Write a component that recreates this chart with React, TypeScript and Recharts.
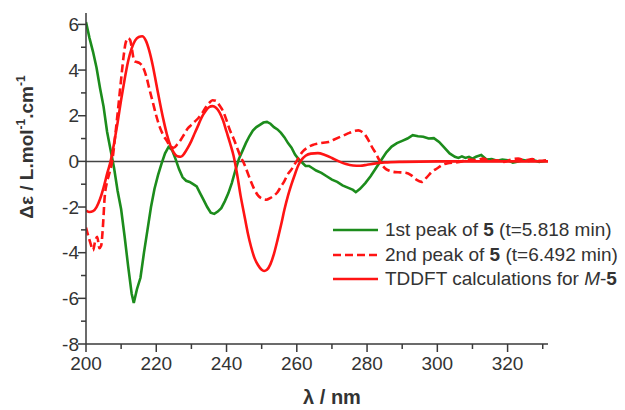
import React from "react";
import { LineChart, Line, XAxis, YAxis, ReferenceLine, Legend } from "recharts";

// ---- Data ----
const greenLambda = [200, 201, 202, 203, 204, 205, 206, 207, 208, 209, 210, 211, 212, 213, 213.6, 214.5, 215.5, 216.5, 217.5, 218.5, 219.5, 220.5, 221.5, 222.5, 223.5, 224.5, 225.5, 226.5, 227.5, 228.5, 229.5, 230.5, 231.5, 232.5, 233.5, 234.5, 235.5, 236.5, 237.5, 238.5, 239.5, 240.5, 241.5, 242.5, 243.5, 244.5, 245.5, 246.5, 247.5, 248.5, 249.5, 250.5, 251.5, 252.5, 253.5, 254.5, 255.5, 256.5, 257.5, 258.5, 259.5, 260.5, 261.5, 262.5, 263.5, 264.5, 265.5, 267, 268.5, 270, 271.5, 273, 274.5, 276, 276.8, 278, 279.5, 281, 282.5, 284, 285.5, 287, 288.5, 290, 291.5, 293, 294.5, 296, 297.5, 299, 300.5, 302, 303.5, 305, 306, 307, 308, 309, 310, 311, 312.5, 314, 315.5, 317, 318.5, 320, 321.5, 323, 324.5, 326, 327.5, 329, 331];
const greenDelta = [6.1, 5.4, 4.8, 4.1, 3.2, 2.4, 1.3, 0.5, -0.3, -1.3, -2.1, -3.3, -4.6, -5.8, -6.2, -5.6, -5.1, -4.0, -3.0, -2.0, -1.2, -0.6, -0.1, 0.35, 0.63, 0.5, 0.1, -0.35, -0.7, -0.85, -0.9, -1.0, -1.1, -1.4, -1.7, -2.0, -2.25, -2.3, -2.2, -2.05, -1.75, -1.4, -0.95, -0.4, 0.1, 0.45, 0.8, 1.1, 1.35, 1.5, 1.6, 1.7, 1.73, 1.65, 1.5, 1.4, 1.25, 1.05, 0.8, 0.6, 0.3, 0.1, -0.05, -0.2, -0.2, -0.3, -0.4, -0.5, -0.65, -0.8, -0.9, -1.05, -1.15, -1.25, -1.35, -1.2, -0.95, -0.65, -0.3, 0.05, 0.4, 0.65, 0.8, 0.9, 1.0, 1.15, 1.1, 1.08, 1.0, 1.02, 0.85, 0.6, 0.35, 0.2, 0.15, 0.22, 0.15, 0.2, 0.12, 0.2, 0.28, 0.08, 0.1, 0.03, 0.08, 0.05, -0.05, 0.0, 0.06, 0.02, 0.05, -0.02, 0.03];

const dashLambda = [200, 200.7, 201.3, 202, 202.6, 203.2, 203.8, 204.3, 204.8, 205.3, 206, 206.7, 207.5, 208.3, 209.2, 210, 210.7, 211.3, 212, 212.6, 213.2, 213.7, 214.5, 215.3, 216.3, 217.2, 218, 219, 220, 221, 222, 223, 224, 225, 226, 227, 228, 229, 230, 231, 232, 233, 234, 235, 236, 237, 238, 239, 240, 241, 242, 243, 244, 245, 246, 247, 248, 249, 250, 251.3, 252.5, 253.5, 254.5, 255.5, 256.5, 257.5, 258.5, 259.5, 260.5, 261.5, 263, 264.5, 266, 267.5, 269, 270.5, 272, 273.5, 275, 276.5, 277.5, 278.5, 279.5, 280.5, 281.5, 282.5, 283.5, 284.5, 285.5, 286.5, 288, 289.5, 291, 292.5, 294, 295.5, 297, 298.5, 300, 301.5, 303, 305, 307, 309, 311, 313, 315, 317, 319, 321, 323, 325, 327, 329, 331];
const dashDelta = [-2.9, -3.3, -3.6, -3.9, -3.5, -3.3, -3.8, -3.7, -2.9, -1.6, -0.9, -0.5, 0.05, 1.1, 2.4, 3.6, 4.6, 5.2, 5.4, 5.3, 4.8, 4.4, 4.35, 4.3, 4.1, 3.7, 3.2, 2.6, 2.0, 1.5, 1.15, 0.9, 0.65, 0.6, 0.75, 0.95, 1.2, 1.45, 1.6, 1.75, 1.9, 2.1, 2.35, 2.55, 2.68, 2.65, 2.45, 2.2, 1.8, 1.35, 1.0, 0.6, 0.2, -0.1, -0.5, -0.9, -1.25, -1.5, -1.62, -1.68, -1.6, -1.5, -1.35, -1.1, -0.85, -0.55, -0.35, -0.1, 0.15, 0.4, 0.6, 0.72, 0.78, 0.82, 0.85, 0.95, 1.05, 1.15, 1.25, 1.33, 1.36, 1.3, 1.15, 0.9, 0.6, 0.35, 0.05, -0.2, -0.35, -0.42, -0.47, -0.48, -0.5, -0.6, -0.8, -0.9, -0.7, -0.45, -0.3, -0.15, -0.08, -0.05, 0.0, 0.08, 0.05, 0.12, 0.03, 0.05, -0.02, 0.08, 0.12, 0.05, 0.1, 0.02, 0.05];

const calcLambda = [200, 201, 202, 203, 204, 205, 206, 207, 208, 209, 210, 211, 212, 213, 214, 215, 216, 217, 218, 219, 220, 221, 222, 223, 224, 225, 226, 227, 228, 229, 230, 231, 232, 233, 234, 235, 236, 237, 238, 239, 240, 241, 242, 243, 244, 245, 246, 247, 248, 249, 250, 250.7, 251.5, 252.5, 253.5, 254.5, 255.5, 256.5, 257.5, 258.5, 259.5, 260.5, 261.5, 262.5, 264, 266, 268, 270, 272, 274, 276, 278, 280, 282, 285, 290, 300, 310, 320, 331.5];
const calcDelta = [-2.15, -2.22, -2.18, -2.0, -1.65, -1.15, -0.55, 0.0, 0.8, 1.7, 2.7, 3.6, 4.4, 4.95, 5.3, 5.45, 5.48, 5.3, 4.85, 4.2, 3.4, 2.6, 1.85, 1.2, 0.7, 0.38, 0.22, 0.2, 0.35, 0.6, 0.9, 1.25, 1.6, 1.95, 2.2, 2.37, 2.42, 2.35, 2.15, 1.8, 1.3, 0.8, 0.25, -0.55, -1.5, -2.3, -3.1, -3.75, -4.25, -4.55, -4.75, -4.8, -4.75, -4.5, -4.05, -3.45, -2.8, -2.1, -1.5, -1.0, -0.55, -0.15, 0.1, 0.25, 0.34, 0.36, 0.28, 0.15, 0.0, -0.12, -0.18, -0.19, -0.15, -0.1, -0.05, -0.02, 0.0, 0.0, 0.0, 0.0];

const xMajorTicks = [200, 220, 240, 260, 280, 300, 320];
const xMinorTicks = [210, 230, 250, 270, 290, 310, 330];
const yMajorTicks = [-8, -6, -4, -2, 0, 2, 4, 6];
const yMinorTicks = [-7, -5, -3, -1, 1, 3, 5];

const zip = (xs: number[], ys: number[]) => xs.map((x, i) => ({ x, y: ys[i] }));
const greenData = zip(greenLambda, greenDelta);
const dashData = zip(dashLambda, dashDelta);
const calcData = zip(calcLambda, calcDelta);
const xAllTicks = [...xMajorTicks, ...xMinorTicks].sort((a, b) => a - b);
const yAllTicks = [...yMajorTicks, ...yMinorTicks].sort((a, b) => a - b);

const GREEN = "#1c8c1c";
const RED = "#ff1414";
const AXIS = "#3a3a3a";
const TEXT = "#333333";
const FONT = "'Liberation Sans', Arial, Helvetica, sans-serif";

const legendItems = [
  { color: GREEN, dash: undefined as string | undefined, label: <>1st peak of <b>5</b> (t=5.818 min)</> },
  { color: RED, dash: "8 4", label: <>2nd peak of <b>5</b> (t=6.492 min)</> },
  { color: RED, dash: undefined as string | undefined, label: <>TDDFT calculations for <i>M</i>-<b>5</b></> },
];

const renderLegend = () => (
  <div style={{ fontFamily: FONT, fontSize: 19, color: TEXT }}>
    {legendItems.map((it, i) => (
      <div key={i} style={{ display: "flex", alignItems: "center", height: 24.5, whiteSpace: "nowrap" }}>
        <svg width={45} height={10} style={{ marginRight: 7, flex: "none" }}>
          <line x1={0} y1={5} x2={45} y2={5} stroke={it.color} strokeWidth={2.6} strokeDasharray={it.dash} />
        </svg>
        <span>{it.label}</span>
      </div>
    ))}
  </div>
);

const XTick = (props: any) => {
  const { x, y, payload } = props;
  const major = xMajorTicks.includes(payload.value);
  return (
    <g>
      <line x1={x} x2={x} y1={y} y2={y + (major ? 8 : 5)} stroke={AXIS} strokeWidth={1.5} />
      {major && (
        <text x={x} y={y + 13} dy="0.71em" textAnchor="middle" fontFamily={FONT} fontSize={19} fill={TEXT}>
          {payload.value}
        </text>
      )}
    </g>
  );
};

const YTick = (props: any) => {
  const { x, y, payload } = props;
  const major = yMajorTicks.includes(payload.value);
  return (
    <g>
      <line x1={x - (major ? 8 : 5)} x2={x} y1={y} y2={y} stroke={AXIS} strokeWidth={1.5} />
      {major && (
        <text x={x - 7} y={y} dy="0.355em" textAnchor="end" fontFamily={FONT} fontSize={19} fill={TEXT}>
          {payload.value}
        </text>
      )}
    </g>
  );
};

const YLabel = () => (
  <text
    transform="translate(33,147) rotate(-90)"
    textAnchor="middle"
    fontFamily={FONT}
    fontSize={19}
    fontWeight="bold"
    fill={TEXT}
  >
    Δε / L.mol<tspan dy={-8} fontSize={12}>-1</tspan>
    <tspan dy={8}>.cm</tspan>
    <tspan dy={-8} fontSize={12}>-1</tspan>
  </text>
);

const XLabel = () => (
  <text x={332} y={404} textAnchor="middle" fontFamily={FONT} fontSize={20} fontWeight="bold" fill={TEXT}>
    λ / nm
  </text>
);

export default function App() {
  return (
    <div style={{ position: "absolute", left: 0, top: 0 }}>
      <LineChart width={625} height={410} margin={{ top: 13, right: 77, bottom: 0, left: 0 }}>
        <XAxis
          type="number"
          dataKey="x"
          domain={[200, 331.5]}
          allowDataOverflow
          ticks={xAllTicks}
          interval={0}
          tickSize={0}
          tickMargin={0}
          height={66}
          tick={<XTick />}
          tickLine={false}
          stroke={AXIS}
          strokeWidth={1.5}
          label={{ content: () => <XLabel /> }}
        />
        <YAxis
          type="number"
          domain={[-8, 6.5]}
          allowDataOverflow
          ticks={yAllTicks}
          interval={0}
          tickSize={0}
          tickMargin={0}
          width={86}
          tick={<YTick />}
          tickLine={false}
          stroke={AXIS}
          strokeWidth={1.5}
          label={{ content: () => <YLabel /> }}
        />
        <ReferenceLine y={0} stroke="#444" strokeWidth={1.5} />
        <Line
          data={greenData}
          dataKey="y"
          type="linear"
          stroke={GREEN}
          strokeWidth={2.6}
          dot={false}
          isAnimationActive={false}
        />
        <Line
          data={dashData}
          dataKey="y"
          type="monotone"
          stroke={RED}
          strokeWidth={2.6}
          strokeDasharray="8 4"
          dot={false}
          isAnimationActive={false}
        />
        <Line
          data={calcData}
          dataKey="y"
          type="monotone"
          stroke={RED}
          strokeWidth={2.6}
          dot={false}
          isAnimationActive={false}
        />
        <Legend
          layout="vertical"
          align="center"
          verticalAlign="middle"
          content={renderLegend}
          wrapperStyle={{ left: 333, top: 218, width: 292 }}
        />
      </LineChart>
    </div>
  );
}
